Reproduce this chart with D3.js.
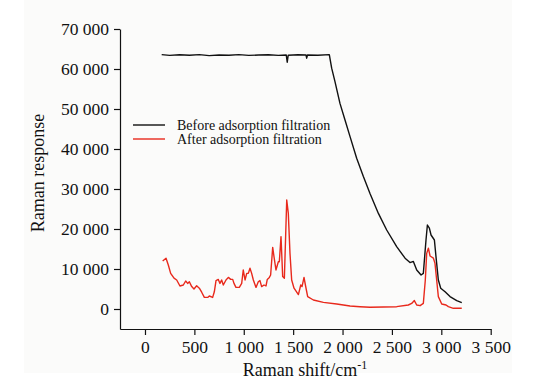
<!DOCTYPE html>
<html>
<head>
<meta charset="utf-8">
<script src="https://cdn.jsdelivr.net/npm/d3@7"></script>
<style>
  body { margin: 0; background: #fff; }
  svg text { font-family: "Liberation Serif", "Times New Roman", serif; fill: #111; }
</style>
</head>
<body>
<svg id="chart" width="557" height="386"></svg>
<script>
// Raman spectra
var beforeShift = [169, 250, 350, 450, 550, 650, 750, 850, 950, 1050, 1150, 1250, 1350, 1430, 1440, 1450, 1550, 1630, 1637, 1645, 1750, 1866,
  1890, 1924, 1974, 2025, 2076, 2143, 2211, 2278, 2363, 2447, 2548, 2633, 2683, 2717, 2751, 2795, 2818, 2845, 2859, 2879, 2896, 2930, 2946,
  2970, 2994, 3038, 3088, 3156, 3207];
var beforeVal = [63600, 63400, 63550, 63450, 63600, 63350, 63500, 63450, 63600, 63400, 63500, 63550, 63400, 63500, 61700, 63450, 63550, 63500, 62700, 63500, 63450, 63600,
  60200, 56800, 51400, 47250, 43100, 37700, 33100, 28900, 23900, 19750, 15600, 12700, 11600, 11900, 9750, 8500, 8900, 17250, 21000, 20200, 18500, 17250, 13100,
  7250, 5200, 4300, 3100, 2100, 1600];

var afterShift = [179, 213, 236, 260, 294, 321, 354, 388, 412, 432, 449, 473, 496, 523, 550, 574, 601, 635, 651, 685, 702, 719, 742, 759, 776, 793,
  820, 844, 868, 888, 901, 921, 955, 979, 995, 1013, 1030, 1046, 1063, 1080, 1097, 1124, 1147, 1164, 1181, 1205, 1225, 1238, 1259, 1272,
  1293, 1306, 1326, 1350, 1360, 1377, 1394, 1411, 1435, 1451, 1468, 1485, 1509, 1553, 1577, 1590, 1610, 1624, 1647, 1705, 1806, 1941,
  2076, 2177, 2278, 2548, 2666, 2700, 2727, 2751, 2785, 2818, 2838, 2852, 2869, 2886, 2920, 2936, 2953, 2970, 3004, 3048, 3071, 3122, 3207];
var afterVal = [12000, 12700, 11000, 8900, 7700, 7250, 5750, 6000, 7000, 6400, 6800, 5600, 5000, 5800, 5200, 4200, 2900, 2900, 3250, 2900, 4300, 7100, 7400, 6400, 7250, 6000,
  7250, 7900, 7400, 7400, 6400, 5400, 5400, 6400, 9750, 7250, 8900, 8900, 10200, 8900, 7250, 5400, 6800, 7100, 5600, 6000, 5750, 7400, 7900, 8500,
  15400, 13100, 9750, 11800, 11800, 18100, 8100, 7700, 27250, 23900, 13900, 7250, 5200, 3600, 6000, 5600, 7900, 6000, 3100, 2250, 1650, 1250,
  750, 580, 420, 580, 1000, 1400, 2100, 1000, 830, 1400, 7250, 13900, 15200, 13250, 12700, 11400, 7250, 3100, 1250, 1000, 580, 170, 170];

var xTicks = [0, 500, 1000, 1500, 2000, 2500, 3000, 3500];
var yTicks = [0, 10000, 20000, 30000, 40000, 50000, 60000, 70000];
var seriesNames = ["Before adsorption filtration", "After adsorption filtration"];
var seriesColors = ["#111111", "#e8291c"];

var svg = d3.select("#chart");
svg.append("rect").attr("x", 24).attr("y", 0).attr("width", 488).attr("height", 373).attr("fill", "#fbfbfa");

var x = d3.scaleLinear().domain([-253, 3500]).range([120, 490.7]);
var y = d3.scaleLinear().domain([-5000, 70000]).range([329, 29]);

var fmt = function(d) { return d3.format(",")(d).replace(/,/g, " "); };

var xAxis = svg.append("g").attr("transform", "translate(0,329)")
  .call(d3.axisBottom(x).tickValues(xTicks).tickFormat(fmt).tickSize(6).tickPadding(6).tickSizeOuter(0));
var yAxis = svg.append("g").attr("transform", "translate(120,0)")
  .call(d3.axisLeft(y).tickValues(yTicks).tickFormat(fmt).tickSize(6).tickPadding(5).tickSizeOuter(0));
[xAxis, yAxis].forEach(function(g) {
  g.selectAll("path, line").attr("stroke", "#111").attr("stroke-width", 1.2);
  g.selectAll("text").attr("font-family", "Liberation Serif").attr("font-size", 17.5).attr("fill", "#111");
});

var line = d3.line().x(function(d) { return x(d[0]); }).y(function(d) { return y(d[1]); });

var before = d3.zip(beforeShift, beforeVal);
var after = d3.zip(afterShift, afterVal);

svg.append("path").datum(after).attr("d", line)
  .attr("fill", "none").attr("stroke", seriesColors[1]).attr("stroke-width", 1.4).attr("stroke-linejoin", "round");
svg.append("path").datum(before).attr("d", line)
  .attr("fill", "none").attr("stroke", seriesColors[0]).attr("stroke-width", 1.4).attr("stroke-linejoin", "round");

// legend
seriesNames.forEach(function(name, i) {
  var ly = 125 + i * 14;
  svg.append("line").attr("x1", 133).attr("x2", 165).attr("y1", ly).attr("y2", ly)
    .attr("stroke", seriesColors[i]).attr("stroke-width", 1.4);
  svg.append("text").attr("x", 177).attr("y", ly).attr("dy", "0.35em")
    .attr("font-size", 14).text(name);
});

// axis titles
var xt = svg.append("text").attr("x", 305).attr("y", 376).attr("text-anchor", "middle").attr("font-size", 18);
xt.append("tspan").text("Raman shift/cm");
xt.append("tspan").attr("dy", -7).attr("font-size", 12).text("-1");

svg.append("text").attr("transform", "translate(44,173) rotate(-90)")
  .attr("text-anchor", "middle").attr("font-size", 18).text("Raman response");
</script>
</body>
</html>
